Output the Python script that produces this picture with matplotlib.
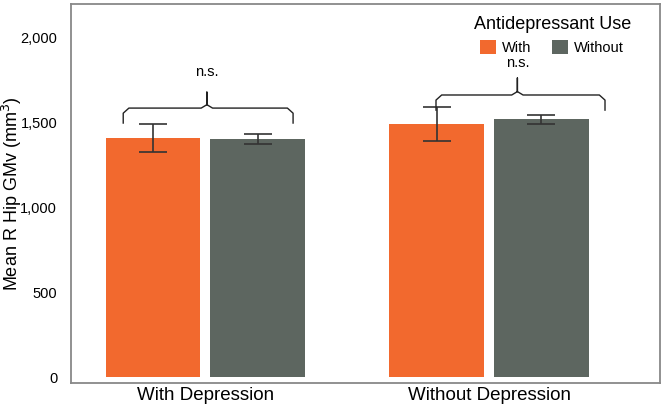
import matplotlib.pyplot as plt
import matplotlib.ticker as mticker
import numpy as np

plt.rcParams['font.family'] = ['Liberation Sans', 'DejaVu Sans']

groups = ['With Depression', 'Without Depression']
series = ['With', 'Without']
means_with = [1404, 1488]
means_without = [1398, 1516]
err_with = [83, 100]
err_without = [30, 27]
# brace annotations: (left, right, center, end_y, bar_y, tip_y, text_y)
braces = [(-0.29, 0.309, 0.005, 1494, 1582, 1676, 1794),
          (0.813, 1.409, 1.10, 1570, 1659, 1759, 1847)]

colors = ['#F2692E', '#5D6660']

fig = plt.figure(figsize=(6.64, 4.04), dpi=100)
ax = fig.add_axes([0.107, 0.052, 0.887, 0.938])

x = np.arange(len(groups))
w = 0.335
off = 0.185
ax.bar(x - off, means_with, w, color=colors[0], label=series[0],
       yerr=err_with, capsize=10, error_kw=dict(ecolor='#333333', elinewidth=1.2, capthick=1.2))
ax.bar(x + off, means_without, w, color=colors[1], label=series[1],
       yerr=err_without, capsize=10, error_kw=dict(ecolor='#333333', elinewidth=1.2, capthick=1.2))

for l, r, c, ye, yb, yt, ytx in braces:
    d = 0.02
    ax.plot([l, l, l + d, c - d, c, c, c, c + d, r - d, r, r],
            [ye, yb - 30, yb, yb, yb + 20, yt, yb + 20, yb, yb, yb - 30, ye],
            color='#222222', lw=1.0)
    ax.text(c, ytx, 'n.s.', ha='center', va='center', fontsize=10.5)

ax.set_xlim(-0.474, 1.603)
ax.set_ylim(-35, 2194)
ax.set_yticks([0, 500, 1000, 1500, 2000])
ax.yaxis.set_major_formatter(mticker.FuncFormatter(lambda v, p: f'{int(v):,}'))
ax.set_xticks(x)
ax.set_xticklabels(groups, fontsize=13.5)
ax.tick_params(axis='y', length=0, labelsize=10.5, pad=10)
ax.tick_params(axis='x', length=0, pad=3)
ax.set_ylabel('Mean R Hip GMv (mm$^3$)', fontsize=13, va='center')
ax.yaxis.set_label_coords(-0.101, 0.5)
for s in ax.spines.values():
    s.set_color('#888888')
    s.set_linewidth(1.3)

leg = ax.legend(ncol=2, frameon=False, title='Antidepressant Use', title_fontsize=13,
                fontsize=10.5, loc='upper left', bbox_to_anchor=(0.666, 0.995),
                handlelength=1.1, handleheight=1.1, handletextpad=0.4, columnspacing=1.4,
                borderpad=0.2)

fig.savefig('out.png', dpi=100, facecolor='white')
